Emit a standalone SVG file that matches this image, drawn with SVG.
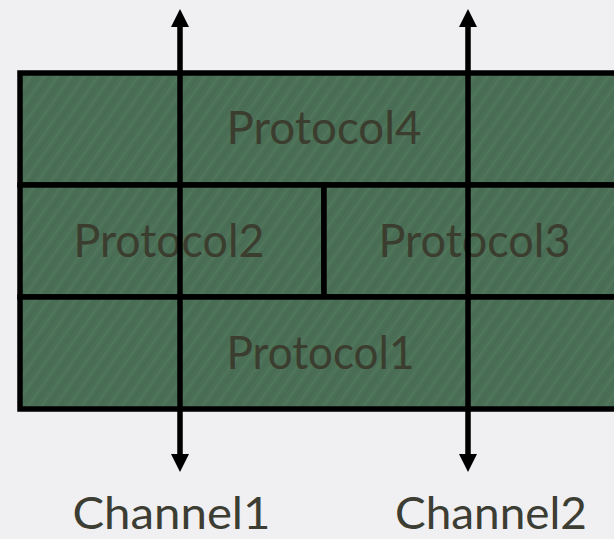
<svg xmlns="http://www.w3.org/2000/svg" width="614" height="539" viewBox="0 0 614 539">
  <defs>
    <pattern id="tex" width="11" height="11" patternUnits="userSpaceOnUse" patternTransform="rotate(-55)">
      <rect width="11" height="11" fill="#4a6e56"/>
      <line x1="0" y1="3" x2="11" y2="3" stroke="#55805f" stroke-width="2.5" opacity="0.45"/>
      <line x1="0" y1="8" x2="11" y2="8" stroke="#42624c" stroke-width="1.5" opacity="0.4"/>
    </pattern>
    <marker id="head" viewBox="0 0 18 18" refX="0" refY="9" markerWidth="18" markerHeight="18" markerUnits="userSpaceOnUse" orient="auto-start-reverse">
      <path d="M0,0 L18,9 L0,18 z" fill="#000"/>
    </marker>
    <style>
      .cell { fill: url(#tex); stroke: #000; stroke-width: 5.5; }
      .lbl { font-family: "Lato", "Open Sans", "Liberation Sans", sans-serif; font-size: 46px; fill: #3b3d2f; text-anchor: middle; }
      .ch { fill: #3c3d33; font-size: 44px; }
      .conn { stroke: #000; stroke-width: 5.5; fill: none; marker-start: url(#head); marker-end: url(#head); }
    </style>
  </defs>
  <rect width="614" height="539" fill="#f0eff2"/>
  <g id="protocol4">
    <rect class="cell" x="20" y="73" width="600" height="112"/>
    <text class="lbl" x="324" y="144" textLength="195" lengthAdjust="spacingAndGlyphs">Protocol4</text>
  </g>
  <g id="protocol2">
    <rect class="cell" x="20" y="185" width="304" height="112"/>
    <text class="lbl" x="169" y="257" textLength="191" lengthAdjust="spacingAndGlyphs">Protocol2</text>
  </g>
  <g id="protocol3">
    <rect class="cell" x="324" y="185" width="296" height="112"/>
    <text class="lbl" x="474.5" y="257" textLength="192" lengthAdjust="spacingAndGlyphs">Protocol3</text>
  </g>
  <g id="protocol1">
    <rect class="cell" x="20" y="297" width="600" height="112"/>
    <text class="lbl" x="320.5" y="369" textLength="188" lengthAdjust="spacingAndGlyphs">Protocol1</text>
  </g>
  <g id="channel1">
    <text class="lbl ch" x="171.5" y="529" textLength="198" lengthAdjust="spacingAndGlyphs">Channel1</text>
  </g>
  <g id="channel2">
    <text class="lbl ch" x="491" y="529" textLength="192" lengthAdjust="spacingAndGlyphs">Channel2</text>
  </g>
  <g id="connectors">
    <line class="conn" x1="180" y1="454" x2="180" y2="27"/>
    <line class="conn" x1="468" y1="454" x2="468" y2="27"/>
  </g>
</svg>
